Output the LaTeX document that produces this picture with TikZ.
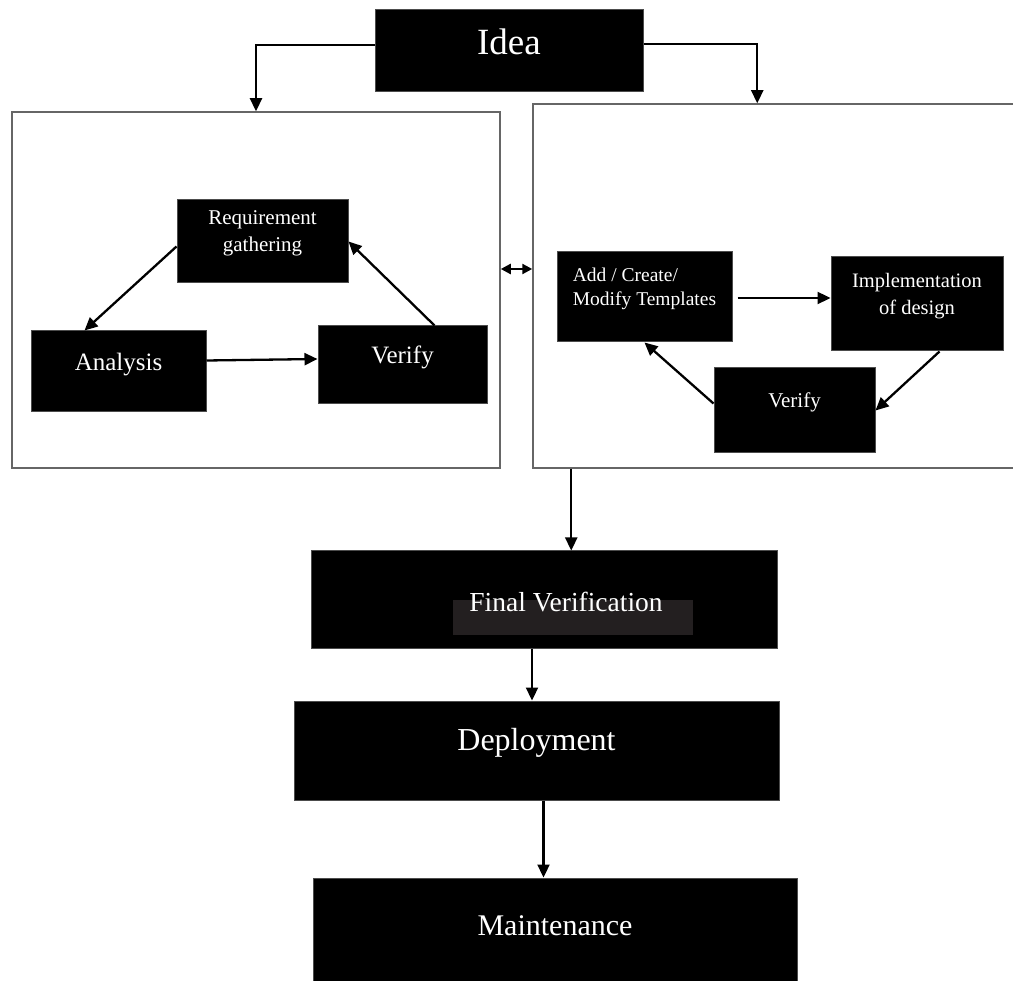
\documentclass[tikz,border=0pt]{standalone}
\usepackage{fontspec}
\setmainfont{Liberation Serif}
\usetikzlibrary{arrows.meta,calc}

\definecolor{fingray}{HTML}{231F20}
\newcommand{\fs}[2]{\fontsize{#1}{#2}\selectfont}

\tikzset{
  blk/.style={fill=black, draw=black!70, line width=1pt, inner sep=0pt},
  wtxt/.style={text=white, inner sep=0pt, align=center},
  frm/.style={draw=black!60, line width=1.5pt, inner sep=0pt},
  arr/.style={-{Triangle[length=13pt,width=12pt]}, line width=2.3pt},
  dbl/.style={{Triangle[length=10pt,width=10pt]}-{Triangle[length=10pt,width=10pt]}, line width=2.3pt},
}

\begin{document}
\begin{tikzpicture}[x=1pt, y=-1pt]

\useasboundingbox (0,0) rectangle (1013,981);

% the two big frames
\node[frm, minimum width=488, minimum height=356] (frameL) at (256,290) {};
\node[frm, minimum width=507, minimum height=364] (frameR) at (786.5,286) {};

% top
\node[blk, minimum width=268, minimum height=82,
  label={[wtxt, font=\fs{37}{44}, yshift=9pt]center:Idea}] (idea) at (509,51) {};

% left loop
\node[blk, minimum width=171, minimum height=83,
  label={[wtxt, font=\fs{21}{27}, yshift=8pt]center:Requirement\\gathering}] (req) at (262.5,241.5) {};
\node[blk, minimum width=175, minimum height=81,
  label={[wtxt, font=\fs{25}{30}, yshift=7pt]center:Analysis}] (ana) at (118.5,371.5) {};
\node[blk, minimum width=169, minimum height=78,
  label={[wtxt, font=\fs{25}{30}, yshift=8pt]center:Verify}] (verL) at (402.5,365) {};

% right loop
\node[blk, minimum width=175, minimum height=90,
  label={[wtxt, align=left, font=\fs{19.5}{24}, yshift=8pt]center:Add / Create/\\Modify Templates}] (add) at (644.5,297) {};
\node[blk, minimum width=172, minimum height=94,
  label={[wtxt, font=\fs{20.5}{27}, yshift=8pt]center:Implementation\\of design}] (impl) at (917,304) {};
\node[blk, minimum width=161, minimum height=85,
  label={[wtxt, font=\fs{21}{26}, yshift=8pt]center:Verify}] (verR) at (794.5,410.5) {};

% bottom chain
\node[blk, minimum width=466, minimum height=97] (fin) at (544,599.5) {};
\fill[fingray] (453,600) rectangle (693,635);
\node[wtxt, font=\fs{27.5}{33}] (fintxt) at (566,602) {Final Verification};
\node[blk, minimum width=485, minimum height=99,
  label={[wtxt, font=\fs{32}{38}, yshift=8pt]center:Deployment}] (dep) at (536.5,750.5) {};
\node[blk, minimum width=484, minimum height=103,
  label={[wtxt, font=\fs{30}{36}, yshift=4pt]center:Maintenance}] (mnt) at (555,929.5) {};

% connectors
\draw[arr] ($(idea.west)+(0,-6)$) -| (frameL.north);
\draw[arr] ($(idea.east)+(0,-7)$) -| ($(frameR.north west)+(225,0)$);
\draw[dbl] ($(frameL.east)+(0,-21)$) -- ($(frameR.west)+(0,-17)$);

\draw[arr] ($(req.west)+(0,5)$) -- ($(ana.north west)+(54,0)$);
\draw[arr] ($(ana.east)+(0,-11)$) -- ($(verL.west)+(0,-6)$);
\draw[arr] ($(verL.north west)+(117,0)$) -- (req.east);

\draw[arr] ($(add.east)+(5,1)$) -- ($(impl.west)+(0,-6)$);
\draw[arr] ($(impl.south west)+(109,0)$) -- (verR.east);
\draw[arr] ($(verR.west)+(0,-7)$) -- (add.south);

\draw[arr] ($(frameR.south west)+(39,0)$) coordinate (c1) -- (c1 |- fin.north);
\draw[arr] ($(fin.south)+(-12,0)$) coordinate (c2) -- (c2 |- dep.north);
\draw[arr] ($(dep.south)+(7,0)$) coordinate (c3) -- (c3 |- mnt.north);

\end{tikzpicture}
\end{document}
